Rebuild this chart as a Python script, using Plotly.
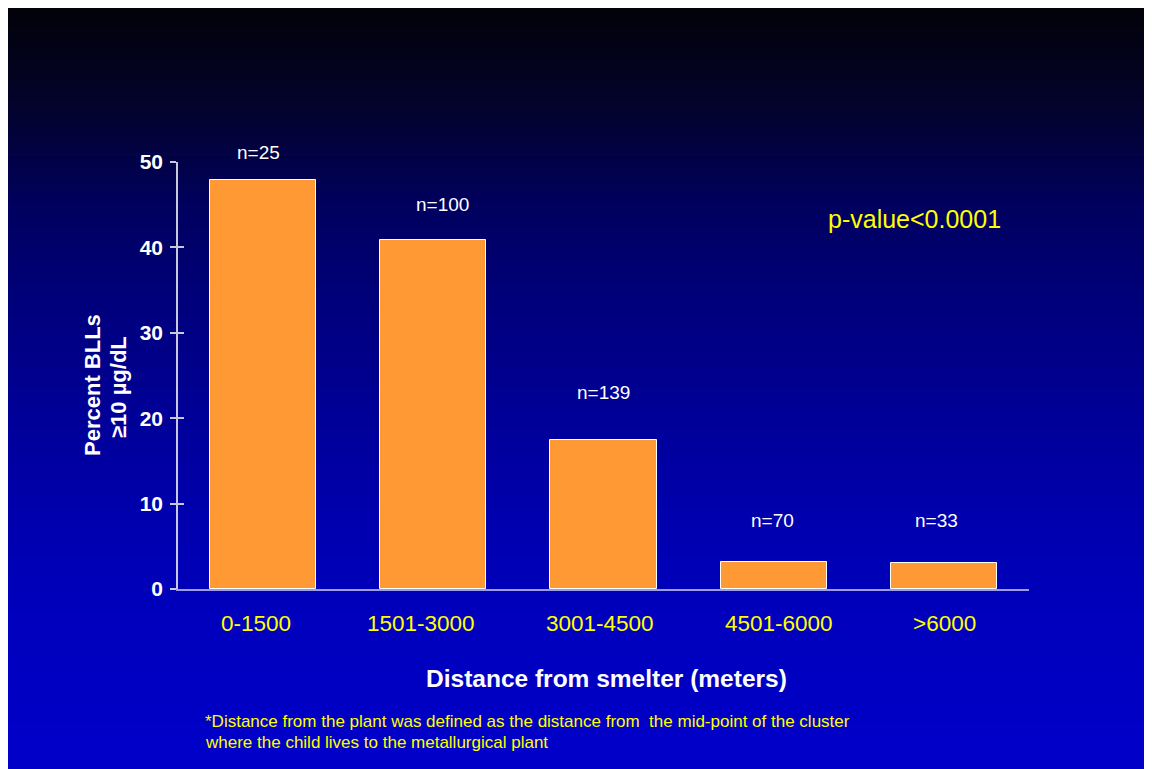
import plotly.graph_objects as go

# ---------------- data ----------------
categories = ["0-1500", "1501-3000", "3001-4500", "4501-6000", ">6000"]
percent_blls = [47.9, 40.9, 17.4, 3.2, 3.1]
n_labels = ["n=25", "n=100", "n=139", "n=70", "n=33"]
y_ticks = [0, 10, 20, 30, 40, 50]

# ---------------- layout constants (pixels, window coordinates) ----------------
W, H = 1152, 769
OFF = 8                      # default body margin of the page
L, T, PW, PH = 170, 154, 851, 427
R = W - L - PW
B = H - T - PH
FONT = "Liberation Sans, Arial, sans-serif"


def pxx(x):
    """window x pixel -> paper x"""
    return (x - OFF - L) / PW


def pxy(y):
    """window y pixel -> paper y"""
    return (T + PH - (y - OFF)) / PH


# label placement (window pixel centres / shifts)
n_label_px_y = [152, 204.5, 392.5, 520, 520]
n_label_xshift = [-5, 9, 0, -1, -7]
cat_label_xshift = [-7, -12, -4, 5, 1]
cat_label_px_y = 623

fig = go.Figure()

fig.add_trace(go.Bar(
    x=categories, y=percent_blls,
    width=0.625,
    marker=dict(color="#FF9933", line=dict(color="#FFFFFF", width=1)),
    hoverinfo="skip",
))
# invisible companion trace to carry the inward tick marks axis
fig.add_trace(go.Scatter(x=categories, y=percent_blls, yaxis="y2",
                         mode="none", hoverinfo="skip", showlegend=False))

# ---------------- gradient background ----------------
stops = [(0, (2, 2, 8)), (100, (3, 3, 45)), (200, (0, 0, 95)), (300, (0, 0, 125)),
         (400, (0, 0, 150)), (500, (0, 0, 172)), (600, (0, 0, 188)), (769, (0, 0, 202))]


def grad(yy):
    for (y0, c0), (y1, c1) in zip(stops[:-1], stops[1:]):
        if y0 <= yy <= y1:
            f = (yy - y0) / (y1 - y0)
            return tuple(round(a + (b - a) * f) for a, b in zip(c0, c1))
    return stops[-1][1]


shapes = []
N = 200
HH = 780
step = HH / N
for i in range(N):
    y0 = i * step
    y1 = (i + 1) * step + 0.8
    c = grad(min((y0 + y1) / 2, 769))
    shapes.append(dict(
        type="rect", xref="paper", yref="paper", layer="below",
        x0=-1, x1=2,
        y0=(T + PH - y1) / PH, y1=(T + PH - y0) / PH,
        fillcolor=f"rgb{c}", line=dict(width=0),
    ))

annotations = []
for i, (cat, lab) in enumerate(zip(categories, n_labels)):
    annotations.append(dict(
        x=cat, xref="x", y=pxy(n_label_px_y[i]), yref="paper",
        text=lab, showarrow=False, xanchor="center", yanchor="middle",
        xshift=n_label_xshift[i],
        font=dict(family=FONT, size=19, color="#FFFFFF"),
    ))
    annotations.append(dict(
        x=cat, xref="x", y=pxy(cat_label_px_y), yref="paper",
        text=cat, showarrow=False, xanchor="center", yanchor="middle",
        xshift=cat_label_xshift[i],
        font=dict(family=FONT, size=22.5, color="#FFFF00"),
    ))

annotations += [
    dict(x=pxx(92), y=pxy(385), xref="paper", yref="paper", text="Percent BLLs",
         textangle=-90, showarrow=False, xanchor="center", yanchor="middle",
         font=dict(family=FONT, size=22, color="#FFFFFF", weight="bold")),
    dict(x=pxx(118), y=pxy(387), xref="paper", yref="paper", text="≥10 µg/dL",
         textangle=-90, showarrow=False, xanchor="center", yanchor="middle",
         font=dict(family=FONT, size=22, color="#FFFFFF", weight="bold")),
    dict(x=pxx(606), y=pxy(678), xref="paper", yref="paper",
         text="Distance from smelter (meters)", showarrow=False,
         xanchor="center", yanchor="middle",
         font=dict(family=FONT, size=24.5, color="#FFFFFF", weight="bold")),
    dict(x=pxx(914), y=pxy(219), xref="paper", yref="paper",
         text="p-value<0.0001", showarrow=False,
         xanchor="center", yanchor="middle",
         font=dict(family=FONT, size=25, color="#FFFF00")),
    dict(x=pxx(203), y=pxy(721), xref="paper", yref="paper",
         text="*Distance from the plant was defined as the distance from \u00a0the mid-point of the cluster",
         showarrow=False, xanchor="left", yanchor="middle",
         font=dict(family=FONT, size=17, color="#FFFF00")),
    dict(x=pxx(203), y=pxy(742), xref="paper", yref="paper",
         text="where the child lives to the metallurgical plant",
         showarrow=False, xanchor="left", yanchor="middle",
         font=dict(family=FONT, size=17, color="#FFFF00")),
]

fig.update_layout(
    width=W, height=H,
    margin=dict(l=L, r=R, t=T, b=B, pad=0),
    paper_bgcolor="#000070",
    plot_bgcolor="rgba(0,0,0,0)",
    showlegend=False,
    bargap=0,
    shapes=shapes,
    annotations=annotations,
    xaxis=dict(
        type="category", range=[-0.5, 4.5],
        showline=True, linecolor="#9C9CE8", linewidth=1.5,
        ticks="", showgrid=False, zeroline=False,
        showticklabels=False,
    ),
    yaxis=dict(
        range=[0, 50], tickvals=y_ticks, ticktext=[str(v) for v in y_ticks],
        showline=True, linecolor="#C8C8DC", linewidth=1.5,
        ticks="outside", ticklen=6, tickwidth=1.5, tickcolor="#C8C8DC",
        showgrid=False, zeroline=False,
        tickfont=dict(family=FONT, size=21, color="#FFFFFF", weight="bold"),
        ticklabelstandoff=3,
    ),
    yaxis2=dict(
        range=[0, 50], tickvals=y_ticks, overlaying="y", side="left", anchor="x",
        showline=False, ticks="inside", ticklen=6, tickwidth=1.5, tickcolor="#C8C8DC",
        showticklabels=False, showgrid=False, zeroline=False,
    ),
)

fig.write_html("out.html")
